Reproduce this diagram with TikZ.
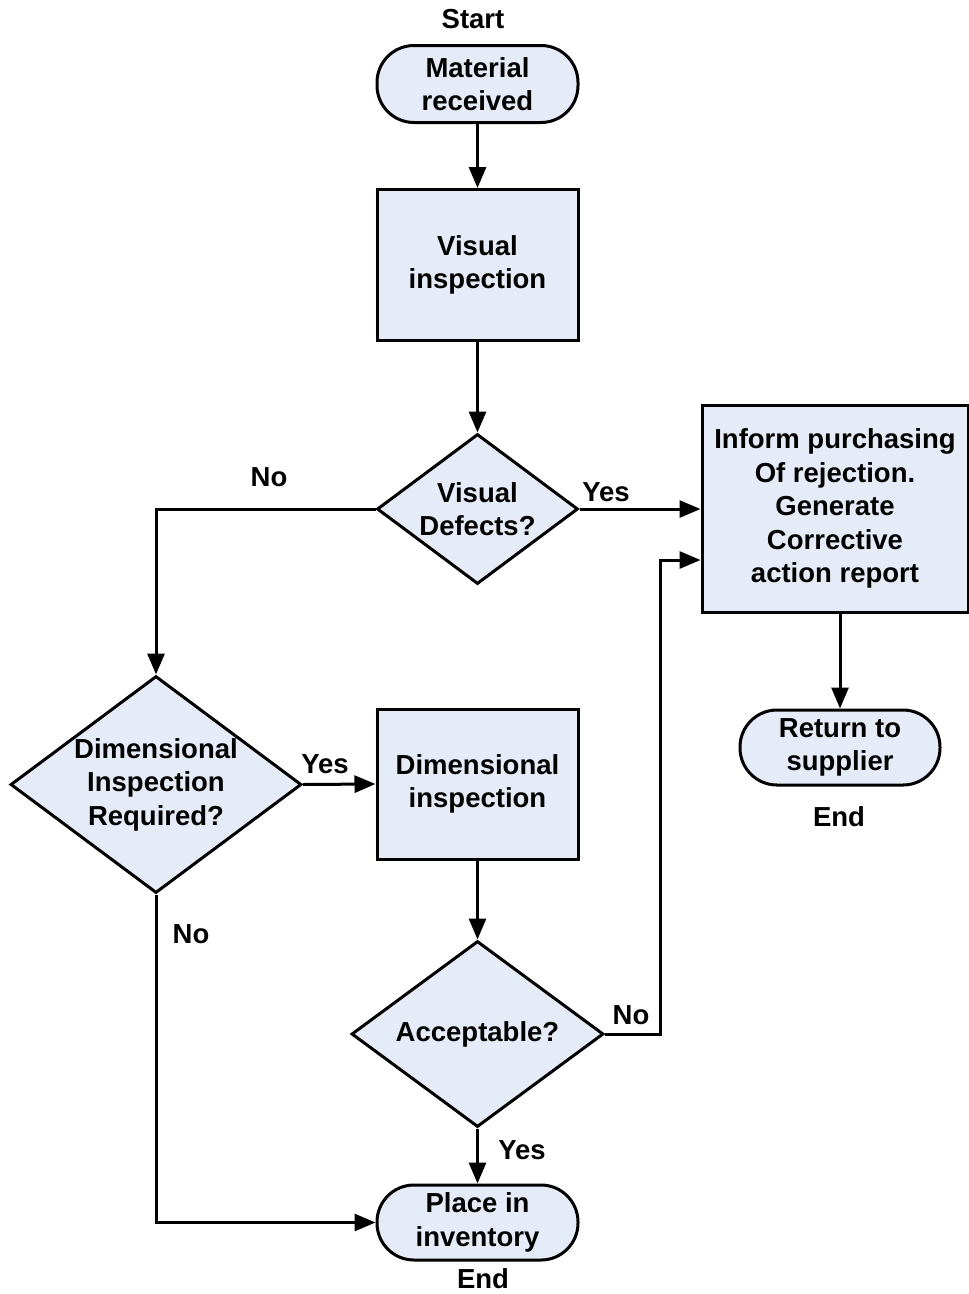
\documentclass[tikz,border=0pt]{standalone}
\usepackage{fontspec}
\setmainfont{Liberation Sans}
\usetikzlibrary{shapes.geometric,arrows.meta}
\definecolor{boxfill}{HTML}{E6ECF7}
\begin{document}
\begin{tikzpicture}[x=1pt,y=-1pt,
  every node/.style={font=\fontsize{27.5}{33.5}\selectfont\bfseries, align=center, inner sep=0pt},
  procbox/.style={draw, line width=3pt, fill=boxfill, rectangle},
  termbox/.style={draw, line width=3pt, fill=boxfill, rectangle, rounded corners=37pt},
  decbox/.style={draw, line width=3pt, fill=boxfill, diamond},
  conn/.style={line width=3pt, -{Triangle[length=21pt,width=17pt]}}]
\useasboundingbox (0,0) rectangle (969,1294);
% nodes
\node[termbox, minimum width=201pt, minimum height=77pt] (mat) at (477.5,84) {Material\\received};
\node[procbox, minimum width=201pt, minimum height=151pt] (vis) at (477.5,265) {Visual\\inspection};
\node[decbox, minimum width=201pt, minimum height=150pt] (vd) at (477.5,509) {};
\node (vdt) at (vd.center) {Visual\\Defects?};
\node[procbox, minimum width=266pt, minimum height=207pt] (inf) at (835,508.5) {Inform purchasing\\Of rejection.\\Generate\\Corrective\\action report};
\node[termbox, minimum width=200pt, minimum height=75pt] (ret) at (840,747.5) {Return to\\supplier};
\node[decbox, minimum width=291pt, minimum height=217pt] (dir) at (156,784.5) {};
\node (dirt) at (dir.center) {Dimensional\\Inspection\\Required?};
\node[procbox, minimum width=201pt, minimum height=150pt] (di) at (477.5,784) {Dimensional\\inspection};
\node[decbox, minimum width=252pt, minimum height=186pt] (acc) at (477.5,1034) {};
\node (acct) at (acc.center) {Acceptable?};
\node[termbox, minimum width=201pt, minimum height=75pt] (pl) at (477.5,1222.5) {Place in\\inventory};
% labels
\node (lstart) at (473,19) {Start};
\node (lend1) at (839,817) {End};
\node (lend2) at (483,1279) {End};
\node (lno1) at (269,477) {No};
\node (lyes1) at (606,492) {Yes};
\node (lyes2) at (325,764) {Yes};
\node (lno2) at (191,934) {No};
\node (lno3) at (631,1015) {No};
\node (lyes3) at (522,1150) {Yes};
% connectors
\coordinate (infin) at (inf.west |- 0,560);
\coordinate (turn) at (660,560);
\draw[conn] (mat) -- (vis);
\draw[conn] (vis) -- (vd);
\draw[conn] (vd.east) -- (vd.east -| inf.west);
\draw[conn] (vd.west) -| (dir.north);
\draw[conn] (dir.east) -- (di.west);
\draw[conn] (di) -- (acc);
\draw[conn] (acc.east) -| (turn) -- (infin);
\draw[conn] (acc) -- (pl);
\draw[conn] (dir.south) |- (pl.west);
\draw[conn] (inf.south -| ret.north) -- (ret.north);
\end{tikzpicture}
\end{document}
